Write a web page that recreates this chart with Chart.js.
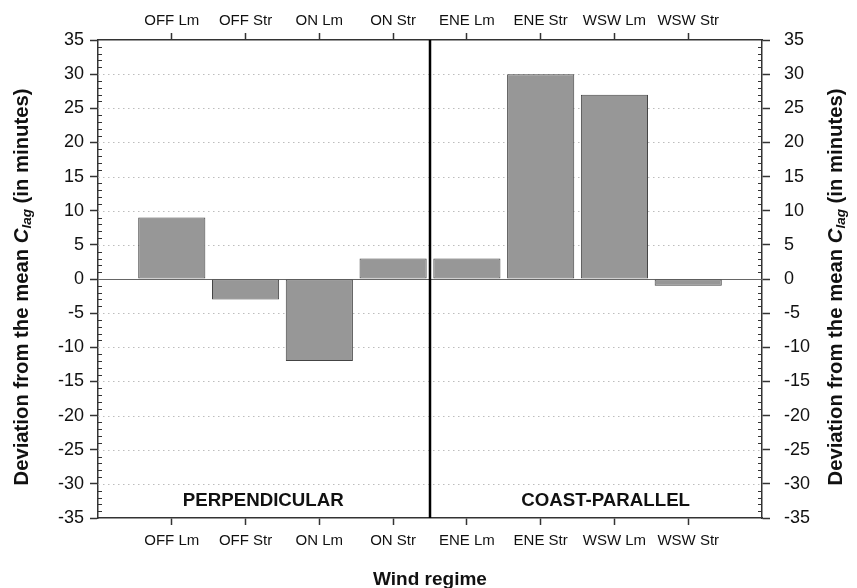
<!DOCTYPE html>
<html>
<head>
<meta charset="utf-8">
<script src="https://cdn.jsdelivr.net/npm/chart.js@4/dist/chart.umd.min.js"></script>
<style>
  html, body { margin: 0; padding: 0; background: #fff; }
  #wrap { width: 857px; height: 588px; position: relative; }
</style>
</head>
<body>
<div id="wrap"><canvas id="c" width="857" height="588"></canvas></div>
<script>
// ---- data ----
const categories = ['OFF Lm', 'OFF Str', 'ON Lm', 'ON Str', 'ENE Lm', 'ENE Str', 'WSW Lm', 'WSW Str'];
const deviations = [9, -3, -12, 3, 3, 30, 27, -1];
const yMin = -35, yMax = 35, yStep = 5;
const regionLabels = ['PERPENDICULAR', 'COAST-PARALLEL'];
const xTitle = 'Wind regime';

// padded labels so that categories sit at positions 1..8 on a 0..9 axis
const labels = [''].concat(categories, ['']);
const values = [null].concat(deviations, [null]);

const FONT = "'Liberation Sans', Arial, sans-serif";
const AXIS = '#333';
const TXT = '#111';

function tickCol(ctx) {
  return (ctx.tick && ctx.tick.label === '') ? 'rgba(0,0,0,0)' : AXIS;
}

const decor = {
  id: 'decor',
  beforeDatasetsDraw(chart) {
    const { ctx, chartArea: a, scales } = chart;
    const y = scales.y;
    ctx.save();
    ctx.strokeStyle = '#bdbdbd';
    ctx.lineWidth = 1;
    ctx.setLineDash([1.5, 3.5]);
    for (let v = yMin + yStep; v < yMax; v += yStep) {
      if (v === 0) continue;
      const py = Math.round(y.getPixelForValue(v)) + 0.5;
      ctx.beginPath(); ctx.moveTo(a.left, py); ctx.lineTo(a.right, py); ctx.stroke();
    }
    ctx.setLineDash([]);
    ctx.strokeStyle = '#666';
    ctx.lineWidth = 1;
    const p0 = Math.round(y.getPixelForValue(0)) + 0.5;
    ctx.beginPath(); ctx.moveTo(a.left, p0); ctx.lineTo(a.right, p0); ctx.stroke();
    ctx.restore();
  },
  afterDraw(chart) {
    const { ctx, chartArea: a, scales } = chart;
    const y = scales.y, x = scales.x;
    ctx.save();
    // minor ticks inside
    ctx.strokeStyle = AXIS;
    ctx.lineWidth = 1;
    for (let v = yMin; v <= yMax; v += 1) {
      if (v % yStep === 0) continue;
      const py = Math.round(y.getPixelForValue(v)) + 0.5;
      ctx.beginPath(); ctx.moveTo(a.left, py); ctx.lineTo(a.left + 4, py); ctx.stroke();
      ctx.beginPath(); ctx.moveTo(a.right, py); ctx.lineTo(a.right - 4, py); ctx.stroke();
    }
    // divider between the two regime groups
    const px = (x.getPixelForValue(4) + x.getPixelForValue(5)) / 2;
    ctx.strokeStyle = '#000';
    ctx.lineWidth = 2.5;
    ctx.beginPath(); ctx.moveTo(px, a.top); ctx.lineTo(px, a.bottom); ctx.stroke();

    // region labels
    ctx.fillStyle = TXT;
    ctx.font = 'bold 18.7px ' + FONT;
    ctx.textAlign = 'center';
    ctx.textBaseline = 'alphabetic';
    const base = y.getPixelForValue(-33.3);
    ctx.fillText(regionLabels[0], x.getPixelForValue(2.24), base);
    ctx.fillText(regionLabels[1], x.getPixelForValue(6.88), base);

    // x title
    ctx.font = 'bold 19px ' + FONT;
    ctx.fillText(xTitle, (a.left + a.right) / 2, 585);

    // y titles with subscript
    function yTitle(cx, cy) {
      const parts = [
        { t: 'Deviation from the mean ', f: 'bold 20.3px ' + FONT, dy: 0 },
        { t: 'C', f: 'italic bold 20.3px ' + FONT, dy: 0 },
        { t: 'lag', f: 'italic bold 13.5px ' + FONT, dy: 5 },
        { t: ' (in minutes)', f: 'bold 20.3px ' + FONT, dy: 0 }
      ];
      let w = 0;
      parts.forEach(p => { ctx.font = p.f; p.w = ctx.measureText(p.t).width; w += p.w; });
      ctx.save();
      ctx.translate(cx, cy);
      ctx.rotate(-Math.PI / 2);
      ctx.textAlign = 'left';
      ctx.textBaseline = 'middle';
      let sx = -w / 2;
      parts.forEach(p => { ctx.font = p.f; ctx.fillText(p.t, sx, p.dy); sx += p.w; });
      ctx.restore();
    }
    yTitle(22, 287);
    yTitle(836, 287);
    ctx.restore();
  }
};

new Chart(document.getElementById('c'), {
  type: 'bar',
  data: {
    labels: labels,
    datasets: [{
      data: values,
      backgroundColor: '#979797',
      borderColor: '#444',
      borderWidth: 1,
      borderSkipped: false,
      barPercentage: 0.91,
      categoryPercentage: 1.0,
      xAxisID: 'x',
      yAxisID: 'y'
    }]
  },
  options: {
    responsive: false,
    animation: false,
    layout: { padding: 0 },
    plugins: { legend: { display: false }, tooltip: { enabled: false } },
    scales: {
      x: {
        type: 'category',
        position: 'bottom',
        offset: false,
        grid: { offset: false, drawOnChartArea: false, drawTicks: true, tickLength: 7, tickColor: tickCol, tickWidth: 1.5 },
        border: { display: true, color: AXIS, width: 1.5 },
        ticks: { font: { family: FONT, size: 15 }, color: TXT, padding: 7, autoSkip: false, maxRotation: 0 },
        afterFit: s => { s.height = 70; }
      },
      x2: {
        type: 'category',
        position: 'top',
        offset: false,
        grid: { offset: false, drawOnChartArea: false, drawTicks: true, tickLength: 7, tickColor: tickCol, tickWidth: 1.5 },
        border: { display: true, color: AXIS, width: 1.5 },
        ticks: { font: { family: FONT, size: 15 }, color: TXT, padding: 3, autoSkip: false, maxRotation: 0 },
        afterFit: s => { s.height = 40; }
      },
      y: {
        type: 'linear',
        position: 'left',
        min: yMin, max: yMax,
        grid: { drawOnChartArea: false, drawTicks: true, tickLength: 8, tickColor: AXIS, tickWidth: 1.5 },
        border: { display: true, color: AXIS, width: 1.5 },
        ticks: { stepSize: yStep, font: { family: FONT, size: 18 }, color: TXT, padding: 6 },
        afterFit: s => { s.width = 98; }
      },
      y2: {
        type: 'linear',
        position: 'right',
        min: yMin, max: yMax,
        grid: { drawOnChartArea: false, drawTicks: true, tickLength: 8, tickColor: AXIS, tickWidth: 1.5 },
        border: { display: true, color: AXIS, width: 1.5 },
        ticks: { stepSize: yStep, font: { family: FONT, size: 18 }, color: TXT, padding: 14 },
        afterFit: s => { s.width = 95; }
      }
    }
  },
  plugins: [decor]
});
</script>
</body>
</html>
